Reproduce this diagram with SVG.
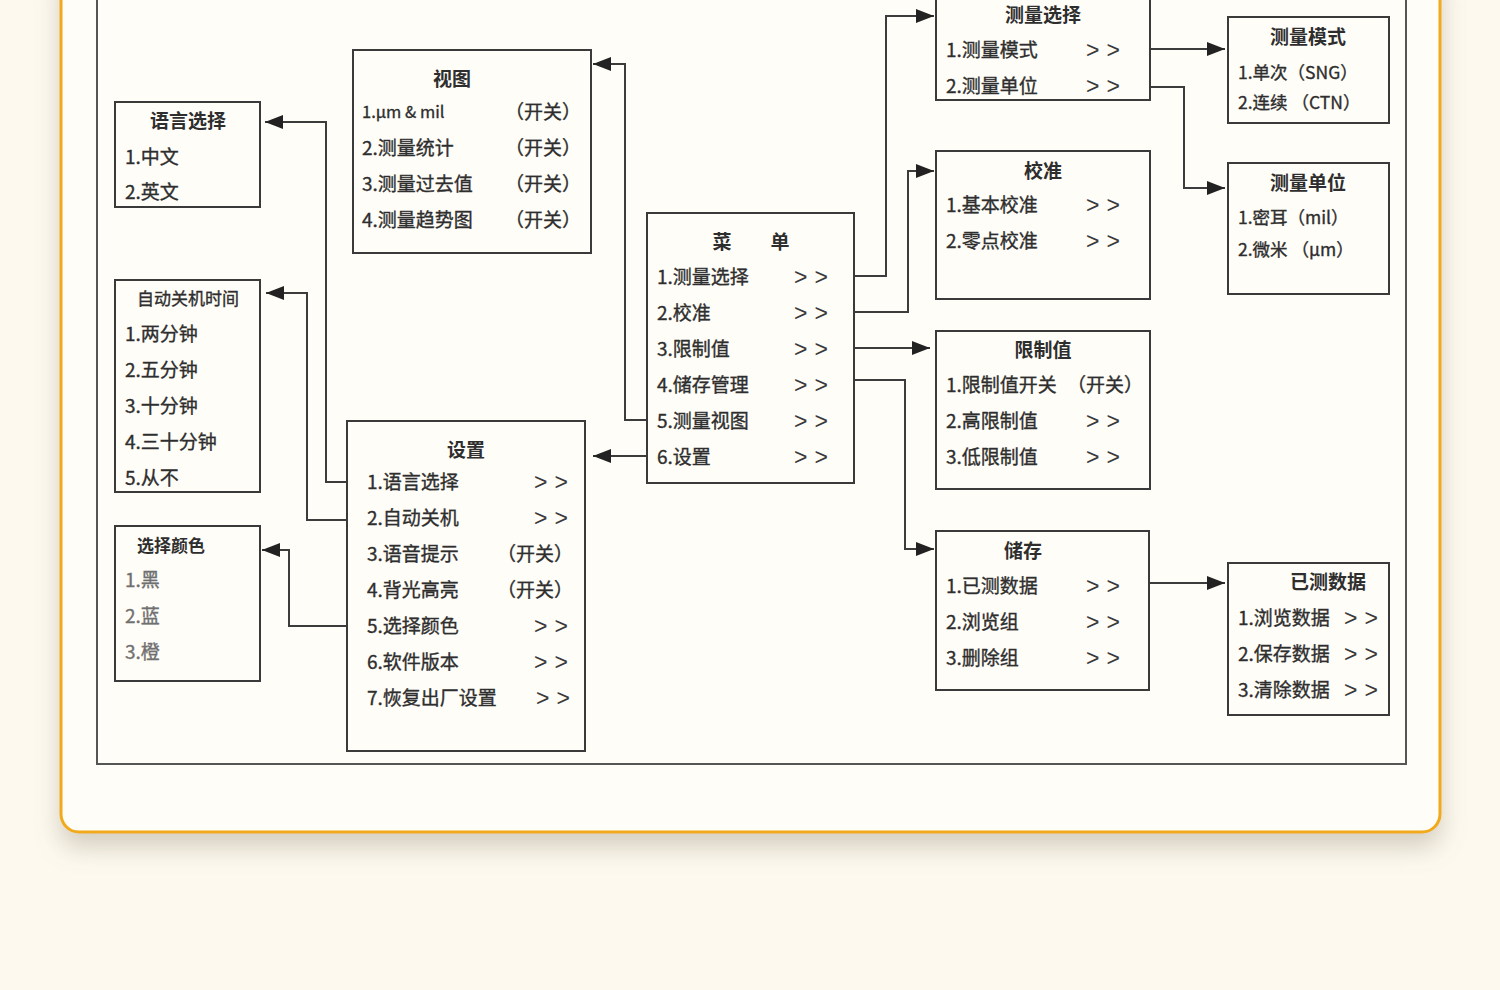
<svg xmlns="http://www.w3.org/2000/svg" width="1500" height="990" viewBox="0 0 1500 990">
<style>
.box{fill:#fffdf8;stroke:#3a3a3a;stroke-width:2}
.t{font-family:"Noto Sans CJK SC","Noto Sans",sans-serif;font-size:19px;fill:#2e2e2e;stroke:#2e2e2e;stroke-width:0.35}
.h{font-family:"Noto Sans CJK SC","Noto Sans",sans-serif;font-size:19px;font-weight:bold;fill:#2e2e2e;text-anchor:middle}
.g{fill:#707070;stroke:#707070}
.ar{font-family:"Liberation Sans",sans-serif;font-size:23px;fill:#3a3a3a;letter-spacing:7px}
.c{fill:none;stroke:#3c3c3c;stroke-width:2}
</style>
<defs>
<marker id="arr" viewBox="0 0 18 14" refX="18" refY="7" markerWidth="18" markerHeight="14" markerUnits="userSpaceOnUse" orient="auto">
<path d="M0,0 L18,7 L0,14 z" fill="#222"/>
</marker>
<filter id="sh" x="-5%" y="-5%" width="110%" height="115%">
<feDropShadow dx="0" dy="14" stdDeviation="12" flood-color="#8a8070" flood-opacity="0.35"/>
</filter>
</defs>
<rect x="0" y="0" width="1500" height="990" fill="#fdf9ee"/>
<rect x="61" y="-40" width="1379" height="872" rx="18" fill="#fffdf7" stroke="#f0aa1c" stroke-width="3" filter="url(#sh)"/>
<rect x="97" y="-10" width="1309" height="774" fill="none" stroke="#555" stroke-width="2"/>

<g id="connectors">
<polyline class="c" points="854,276 886,276 886,16 934,16" marker-end="url(#arr)"/>
<polyline class="c" points="854,312 908,312 908,171 934,171" marker-end="url(#arr)"/>
<polyline class="c" points="854,348 930,348" marker-end="url(#arr)"/>
<polyline class="c" points="854,380 905,380 905,549 934,549" marker-end="url(#arr)"/>
<polyline class="c" points="647,420 625,420 625,64 593,64" marker-end="url(#arr)"/>
<polyline class="c" points="647,456 593,456" marker-end="url(#arr)"/>
<polyline class="c" points="347,482 326,482 326,122 265,122" marker-end="url(#arr)"/>
<polyline class="c" points="347,520 307,520 307,293 266,293" marker-end="url(#arr)"/>
<polyline class="c" points="347,626 289,626 289,550 262,550" marker-end="url(#arr)"/>
<polyline class="c" points="1150,49 1225,49" marker-end="url(#arr)"/>
<polyline class="c" points="1150,87 1184,87 1184,188 1225,188" marker-end="url(#arr)"/>
<polyline class="c" points="1149,583 1225,583" marker-end="url(#arr)"/>
</g>

<g id="lang">
<rect class="box" x="115" y="102" width="145" height="105"/>
<text class="h" x="188" y="128">语言选择</text>
<text class="t" x="125" y="164">1.中文</text>
<text class="t" x="125" y="199">2.英文</text>
</g>

<g id="view">
<rect class="box" x="353" y="50" width="238" height="203"/>
<text class="h" x="452" y="86">视图</text>
<text class="t" x="362" y="118" style="font-size:16.5px">1.μm &amp; mil</text>
<text class="t" x="362" y="155">2.测量统计</text>
<text class="t" x="362" y="191">3.测量过去值</text>
<text class="t" x="362" y="227">4.测量趋势图</text>
<text class="t" x="505" y="119">（开关）</text>
<text class="t" x="505" y="155">（开关）</text>
<text class="t" x="505" y="191">（开关）</text>
<text class="t" x="505" y="227">（开关）</text>
</g>

<g id="menu">
<rect class="box" x="647" y="213" width="207" height="270"/>
<text class="h" x="722" y="249">菜</text>
<text class="h" x="780" y="249">单</text>
<text class="t" x="657" y="284">1.测量选择</text>
<text class="t" x="657" y="320">2.校准</text>
<text class="t" x="657" y="356">3.限制值</text>
<text class="t" x="657" y="392">4.储存管理</text>
<text class="t" x="657" y="428">5.测量视图</text>
<text class="t" x="657" y="464">6.设置</text>
<text class="ar" x="794" y="285">&gt;&gt;</text>
<text class="ar" x="794" y="321">&gt;&gt;</text>
<text class="ar" x="794" y="357">&gt;&gt;</text>
<text class="ar" x="794" y="393">&gt;&gt;</text>
<text class="ar" x="794" y="429">&gt;&gt;</text>
<text class="ar" x="794" y="465">&gt;&gt;</text>
</g>

<g id="measure-select">
<rect class="box" x="936" y="-5" width="214" height="105"/>
<text class="h" x="1043" y="22">测量选择</text>
<text class="t" x="946" y="57">1.测量模式</text>
<text class="t" x="946" y="93">2.测量单位</text>
<text class="ar" x="1086" y="58">&gt;&gt;</text>
<text class="ar" x="1086" y="94">&gt;&gt;</text>
</g>

<g id="measure-mode">
<rect class="box" x="1228" y="17" width="161" height="106"/>
<text class="h" x="1308" y="44">测量模式</text>
<text class="t" x="1238" y="79" style="font-size:17.5px">1.单次（SNG）</text>
<text class="t" x="1238" y="109" style="font-size:17.5px">2.连续 （CTN）</text>
</g>

<g id="calib">
<rect class="box" x="936" y="151" width="214" height="148"/>
<text class="h" x="1043" y="178">校准</text>
<text class="t" x="946" y="212">1.基本校准</text>
<text class="t" x="946" y="248">2.零点校准</text>
<text class="ar" x="1086" y="213">&gt;&gt;</text>
<text class="ar" x="1086" y="249">&gt;&gt;</text>
</g>

<g id="measure-unit">
<rect class="box" x="1228" y="163" width="161" height="131"/>
<text class="h" x="1308" y="190">测量单位</text>
<text class="t" x="1238" y="224" style="font-size:17.5px">1.密耳（mil）</text>
<text class="t" x="1238" y="256" style="font-size:17.5px">2.微米 （μm）</text>
</g>

<g id="limit">
<rect class="box" x="936" y="331" width="214" height="158"/>
<text class="h" x="1043" y="357">限制值</text>
<text class="t" x="946" y="392">1.限制值开关</text>
<text class="t" x="1067" y="392">（开关）</text>
<text class="t" x="946" y="428">2.高限制值</text>
<text class="t" x="946" y="464">3.低限制值</text>
<text class="ar" x="1086" y="429">&gt;&gt;</text>
<text class="ar" x="1086" y="465">&gt;&gt;</text>
</g>

<g id="storage">
<rect class="box" x="936" y="531" width="213" height="159"/>
<text class="h" x="1023" y="558">储存</text>
<text class="t" x="946" y="593">1.已测数据</text>
<text class="t" x="946" y="629">2.浏览组</text>
<text class="t" x="946" y="665">3.删除组</text>
<text class="ar" x="1086" y="594">&gt;&gt;</text>
<text class="ar" x="1086" y="630">&gt;&gt;</text>
<text class="ar" x="1086" y="666">&gt;&gt;</text>
</g>

<g id="measured-data">
<rect class="box" x="1228" y="563" width="161" height="152"/>
<text class="h" x="1328" y="589">已测数据</text>
<text class="t" x="1238" y="625">1.浏览数据</text>
<text class="t" x="1238" y="661">2.保存数据</text>
<text class="t" x="1238" y="697">3.清除数据</text>
<text class="ar" x="1344" y="626">&gt;&gt;</text>
<text class="ar" x="1344" y="662">&gt;&gt;</text>
<text class="ar" x="1344" y="698">&gt;&gt;</text>
</g>

<g id="auto-off">
<rect class="box" x="115" y="280" width="145" height="212"/>
<text class="h" x="188" y="305" style="font-size:17px;font-weight:normal;stroke:#2e2e2e;stroke-width:0.35">自动关机时间</text>
<text class="t" x="125" y="341">1.两分钟</text>
<text class="t" x="125" y="377">2.五分钟</text>
<text class="t" x="125" y="413">3.十分钟</text>
<text class="t" x="125" y="449">4.三十分钟</text>
<text class="t" x="125" y="485">5.从不</text>
</g>

<g id="settings">
<rect class="box" x="347" y="421" width="238" height="330"/>
<text class="h" x="466" y="457">设置</text>
<text class="t" x="367" y="489">1.语言选择</text>
<text class="t" x="367" y="525">2.自动关机</text>
<text class="t" x="367" y="561">3.语音提示</text>
<text class="t" x="367" y="597">4.背光高亮</text>
<text class="t" x="367" y="633">5.选择颜色</text>
<text class="t" x="367" y="669">6.软件版本</text>
<text class="t" x="367" y="705">7.恢复出厂设置</text>
<text class="ar" x="534" y="490">&gt;&gt;</text>
<text class="ar" x="534" y="526">&gt;&gt;</text>
<text class="t" x="497" y="561">（开关）</text>
<text class="t" x="497" y="597">（开关）</text>
<text class="ar" x="534" y="634">&gt;&gt;</text>
<text class="ar" x="534" y="670">&gt;&gt;</text>
<text class="ar" x="536" y="706">&gt;&gt;</text>
</g>

<g id="color">
<rect class="box" x="115" y="526" width="145" height="155"/>
<text class="h" x="171" y="552" style="font-size:17px">选择颜色</text>
<text class="t g" x="125" y="587">1.黑</text>
<text class="t g" x="125" y="623">2.蓝</text>
<text class="t g" x="125" y="659">3.橙</text>
</g>
</svg>
